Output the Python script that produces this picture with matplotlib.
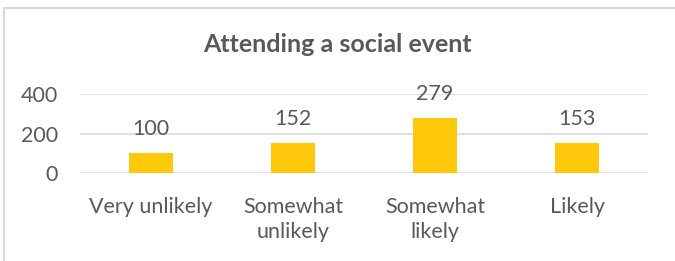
import matplotlib.pyplot as plt
from matplotlib.patches import Rectangle

categories = ['Very unlikely', 'Somewhat\nunlikely', 'Somewhat\nlikely', 'Likely']
values = [100, 152, 279, 153]
yticks = [0, 200, 400]

text_color = '#595959'
grid_color = '#D9D9D9'
bar_color = '#FFC80A'

plt.rcParams['font.family'] = ['Lato', 'DejaVu Sans']

fig = plt.figure(figsize=(6.75, 2.61), dpi=100)
ax = fig.add_axes([80 / 675, 1 - 173 / 261, 568 / 675, 79 / 261])

x = range(len(categories))
ax.bar(x, values, width=0.31, color=bar_color, zorder=3)
for xi, v in zip(x, values):
    ax.annotate(str(v), (xi, v), xytext=(0, 10), textcoords='offset points',
                ha='center', va='bottom', fontsize=15.5, color=text_color)

ax.set_xlim(-0.5, len(categories) - 0.5)
ax.set_ylim(0, 400)
ax.set_yticks(yticks)
ax.set_xticks(list(x))
ax.set_xticklabels(categories, linespacing=1.35)
ax.tick_params(axis='both', length=0, labelsize=15.5, labelcolor=text_color)
ax.tick_params(axis='x', pad=17)
ax.tick_params(axis='y', pad=16)
ax.grid(axis='y', color=grid_color, linewidth=1.2, zorder=0)
for s in ax.spines.values():
    s.set_visible(False)

fig.text(0.5, 1 - 45 / 261, 'Attending a social event', ha='center', va='center',
         fontsize=18, fontweight='bold', color=text_color)

fig.patches.append(Rectangle((4 / 675, -0.05), 1.0, 1 - 8 / 261 + 0.05,
                             transform=fig.transFigure, fill=False,
                             edgecolor=grid_color, linewidth=1.5))

fig.savefig('out.png', dpi=100)
